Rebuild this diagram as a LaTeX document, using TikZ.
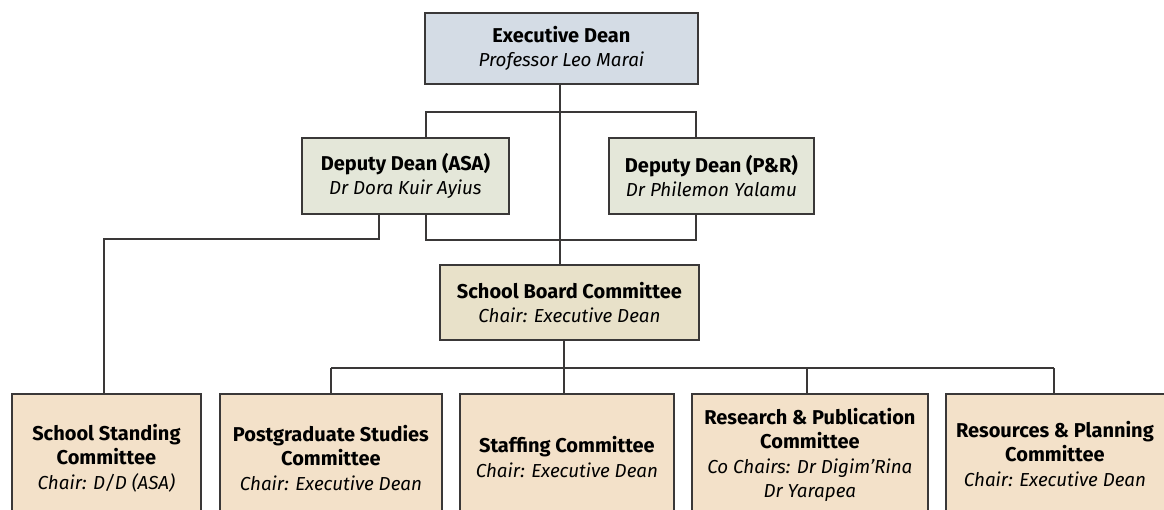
\documentclass[tikz,border=0pt]{standalone}
\usepackage{fontspec}
\setmainfont{Fira Sans}
\newcommand\hdline[1]{{\fontsize{20}{24.5}\selectfont\bfseries #1}}
\newcommand\itline[1]{{\fontsize{18.8}{24.5}\selectfont\itshape #1}}
\begin{document}
\begin{tikzpicture}[x=1pt,y=-1pt,
  box/.style={draw=linec, line width=1.8pt, inner sep=0pt, anchor=north west, align=center,
    font=\fontsize{19}{24.5}\selectfont},
  conn/.style={draw=linec, line width=1.8pt},
  ]
\definecolor{linec}{HTML}{3A3838}
\definecolor{edfill}{HTML}{D4DCE5}
\definecolor{ddfill}{HTML}{E4E7D9}
\definecolor{sbfill}{HTML}{E8E1C9}
\definecolor{cfill}{HTML}{F3E1C9}
\useasboundingbox (0,0) rectangle (1164,510);
\clip (0,0) rectangle (1164,510);

\node[box, fill=edfill, minimum width=273pt, minimum height=71pt] (ed) at (424,12)
  {\hdline{Executive Dean}\\\itline{Professor Leo Marai}};
\node[box, fill=ddfill, minimum width=207pt, minimum height=76pt] (asa) at (301,137)
  {\hdline{Deputy Dean (ASA)}\\\itline{Dr Dora Kuir Ayius}};
\node[box, fill=ddfill, minimum width=205pt, minimum height=76pt] (pr) at (608,137)
  {\hdline{Deputy Dean (P\&R)}\\\itline{Dr Philemon Yalamu}};
\node[box, fill=sbfill, minimum width=259pt, minimum height=75pt] (sb) at (439,264)
  {\hdline{School Board Committee}\\\itline{Chair: Executive Dean}};

\node[box, fill=cfill, minimum width=189pt, minimum height=128pt] (c1) at (11,393)
  {\hdline{School Standing}\\\hdline{Committee}\\\itline{Chair: D/D (ASA)}};
\node[box, fill=cfill, minimum width=222pt, minimum height=128pt] (c2) at (219,393)
  {\hdline{Postgraduate Studies}\\\hdline{Committee}\\\itline{Chair: Executive Dean}};
\node[box, fill=cfill, minimum width=214pt, minimum height=126pt] (c3) at (459,393)
  {\hdline{Staffing Committee}\\\itline{Chair: Executive Dean}};
\node[box, fill=cfill, minimum width=236pt, minimum height=122pt] (c4) at (691,393)
  {\hdline{Research \& Publication}\\\hdline{Committee}\\\itline{Co Chairs: Dr Digim’Rina}\\\itline{Dr Yarapea}};
\node[box, fill=cfill, minimum width=240pt, minimum height=126pt] (c5) at (945,393)
  {\hspace*{-22pt}\begin{tabular}{@{}c@{}}\hdline{Resources \& Planning}\\\hdline{Committee}\\\itline{Chair: Executive Dean}\end{tabular}};

% coordinates for connectors
\coordinate (t1) at (426,112);
\coordinate (t2) at (696,112);
\coordinate (a1) at (379,239);
\coordinate (a2) at (104,239);
\coordinate (m1) at (426,240);
\coordinate (m2) at (696,240);
\coordinate (b0) at (564,368);
\coordinate (b1) at (331,368);
\coordinate (b2) at (1054,368);

\draw[conn] (ed.south -| 560,0) -- (sb.north -| 560,0);
\draw[conn] (asa.north -| t1) -- (t1) -- (t2) -- (pr.north -| t2);
\draw[conn] (asa.south -| a1) -- (a1) -- (a2) -- (c1.north -| a2);
\draw[conn] (asa.south -| m1) -- (m1) -- (m2) -- (pr.south -| m2);
\draw[conn] (sb.south -| b0) -- (b0);
\draw[conn] (b1) -- (b2);
\draw[conn] (b1) -- (c2.north -| b1);
\draw[conn] (b0) -- (c3.north -| b0);
\draw[conn] (807,368) -- (c4.north -| 807,0);
\draw[conn] (b2) -- (c5.north -| b2);
\end{tikzpicture}
\end{document}
